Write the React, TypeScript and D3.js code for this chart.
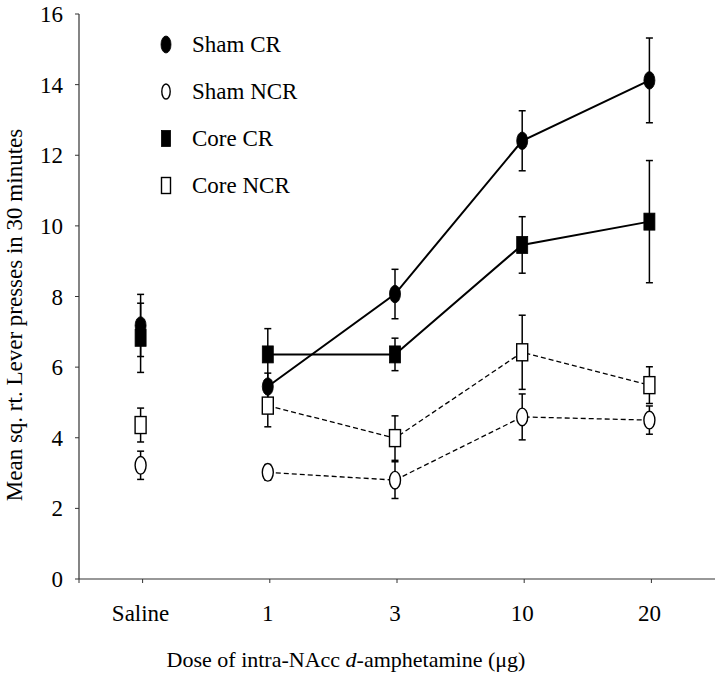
import React from "react";
import * as d3 from "d3";

const doses = ["Saline", "1", "3", "10", "20"];
const yTicks = [0, 2, 4, 6, 8, 10, 12, 14, 16];

const shamCR = [7.18, 5.45, 8.07, 12.41, 14.12];
const shamCRErr = [0.88, 0.38, 0.7, 0.85, 1.2];
const shamNCR = [3.22, 3.02, 2.8, 4.59, 4.5];
const shamNCRErr = [0.4, 0.22, 0.52, 0.65, 0.4];
const coreCR = [6.83, 6.36, 6.36, 9.46, 10.12];
const coreCRErr = [0.98, 0.73, 0.46, 0.8, 1.73];
const coreNCR = [4.36, 4.91, 3.99, 6.42, 5.49];
const coreNCRErr = [0.48, 0.6, 0.63, 1.05, 0.52];

const seriesNames = ["Sham CR", "Sham NCR", "Core CR", "Core NCR"];

const FONT = "Liberation Serif, Times New Roman, serif";

type Series = {
  name: string;
  values: number[];
  errs: number[];
  shape: "ellipse" | "rect";
  filled: boolean;
  dashed: boolean;
};

const series: Series[] = [
  { name: seriesNames[0], values: shamCR, errs: shamCRErr, shape: "ellipse", filled: true, dashed: false },
  { name: seriesNames[1], values: shamNCR, errs: shamNCRErr, shape: "ellipse", filled: false, dashed: true },
  { name: seriesNames[2], values: coreCR, errs: coreCRErr, shape: "rect", filled: true, dashed: false },
  { name: seriesNames[3], values: coreNCR, errs: coreNCRErr, shape: "rect", filled: false, dashed: true },
];

function Marker({ s, cx, cy, legend }: { s: Series; cx: number; cy: number; legend?: boolean }) {
  const fill = s.filled ? "#000" : "#fff";
  const sw = s.filled ? 0.8 : 1.4;
  if (s.shape === "ellipse") {
    const rx = legend ? (s.filled ? 5 : 4.2) : 5.5;
    const ry = legend ? (s.filled ? 8.5 : 7.5) : 8.8;
    return <ellipse cx={cx} cy={cy} rx={rx} ry={ry} fill={fill} stroke="#000" strokeWidth={sw} />;
  }
  const w = legend ? 9 : 11;
  const h = legend ? 16 : 17;
  return <rect x={cx - w / 2} y={cy - h / 2} width={w} height={h} fill={fill} stroke="#000" strokeWidth={sw} />;
}

const textStyle = { fontFamily: FONT } as const;

export default function App() {
  const left = 79;
  const right = 715;
  const x = d3.scaleBand<string>().domain(doses).range([left, right]);
  const xc = (d: string) => (x(d) as number) + x.bandwidth() / 2;
  const y = d3.scaleLinear().domain([0, 16]).range([579, 14]);

  const line = d3
    .line<number>()
    .x((_, i) => xc(doses[i + 1]) - 2)
    .y((v) => y(v));

  return (
    <svg
      width={720}
      height={680}
      style={{ position: "absolute", left: 0, top: 0, background: "#fff" }}
    >
      <rect x={0} y={0} width={720} height={680} fill="#fff" />
      {/* axes */}
      <line x1={left} y1={y(16)} x2={left} y2={y(0)} stroke="#333" strokeWidth={1.2} />
      <line x1={left} y1={y(0)} x2={right} y2={y(0)} stroke="#333" strokeWidth={1.2} />
      {yTicks.map((t) => (
        <g key={t}>
          <line x1={left - 4} x2={left} y1={y(t)} y2={y(t)} stroke="#333" strokeWidth={1} />
          <text x={63} y={y(t)} dy="0.35em" textAnchor="end" fontSize={23} fill="#000" style={textStyle}>
            {t}
          </text>
        </g>
      ))}
      <line x1={left} x2={left} y1={y(0)} y2={y(0) + 4} stroke="#333" strokeWidth={1} />
      {doses.map((d) => (
        <g key={d}>
          <line x1={xc(d)} x2={xc(d)} y1={y(0)} y2={y(0) + 4} stroke="#333" strokeWidth={1} />
          <text x={xc(d) - 2} y={621} textAnchor="middle" fontSize={23} fill="#000" style={textStyle}>
            {d}
          </text>
        </g>
      ))}
      <text
        transform={`translate(22, 315) rotate(-90)`}
        textAnchor="middle"
        fontSize={23}
        fill="#000"
        style={textStyle}
      >
        Mean sq. rt. Lever presses in 30 minutes
      </text>
      <text x={346} y={667} textAnchor="middle" fontSize={22} fill="#000" style={textStyle}>
        Dose of intra-NAcc <tspan fontStyle="italic">d</tspan>-amphetamine (μg)
      </text>

      {/* lines (doses only, not saline) */}
      {series.map((s) => (
        <path
          key={s.name + "-line"}
          d={line(s.values.slice(1)) || ""}
          fill="none"
          stroke="#000"
          strokeWidth={s.dashed ? 1.3 : 2}
          strokeDasharray={s.dashed ? "5,3" : undefined}
        />
      ))}

      {/* error bars */}
      {series.map((s) =>
        s.values.map((v, i) => {
          const cx = xc(doses[i]) - 2;
          const lo = y(v - s.errs[i]);
          const hi = y(v + s.errs[i]);
          return (
            <g key={s.name + "-err-" + i} stroke="#000" strokeWidth={1.5}>
              <line x1={cx} x2={cx} y1={lo} y2={hi} />
              <line x1={cx - 3.5} x2={cx + 3.5} y1={lo} y2={lo} />
              <line x1={cx - 3.5} x2={cx + 3.5} y1={hi} y2={hi} />
            </g>
          );
        })
      )}

      {/* markers */}
      {series.map((s) =>
        s.values.map((v, i) => (
          <Marker key={s.name + "-m-" + i} s={s} cx={xc(doses[i]) - 2} cy={y(v)} />
        ))
      )}

      {/* legend */}
      {series.map((s, i) => {
        const cy = 44.5 + i * 47;
        return (
          <g key={s.name + "-legend"}>
            <Marker s={s} cx={166} cy={cy} legend />
            <text x={192} y={cy + 7.5} fontSize={23} fill="#000" style={textStyle}>
              {s.name}
            </text>
          </g>
        );
      })}
    </svg>
  );
}
